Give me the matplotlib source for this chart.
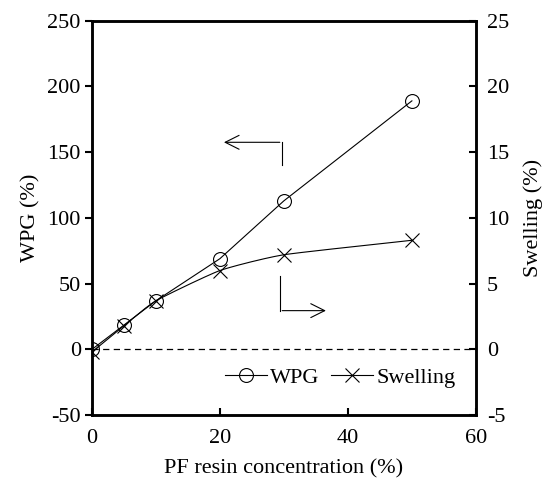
import numpy as np
import matplotlib
matplotlib.use("Agg")
import matplotlib.pyplot as plt
from matplotlib.lines import Line2D

# ── Data ──────────────────────────────────────────────────────────────────────
conc = [0, 5, 10, 20, 30, 50]
wpg = [0, 18.5, 37, 69, 113, 189]
swelling = [-0.2, 1.8, 3.7, 6.0, 7.2, 8.3]

x_ticks = [0, 20, 40, 60]
wpg_ticks = [-50, 0, 50, 100, 150, 200, 250]
sw_ticks = [-5, 0, 5, 10, 15, 20, 25]

plt.rcParams["font.family"] = ["Liberation Serif", "DejaVu Serif"]
plt.rcParams["font.size"] = 16
plt.rcParams["axes.unicode_minus"] = False


def smooth(xs, ys, n=30):
    # Catmull-Rom style smoothing, only for drawing the connecting line
    xs = np.asarray(xs, float)
    ys = np.asarray(ys, float)
    px = np.concatenate([[2 * xs[0] - xs[1]], xs, [2 * xs[-1] - xs[-2]]])
    py = np.concatenate([[2 * ys[0] - ys[1]], ys, [2 * ys[-1] - ys[-2]]])
    ox, oy = [], []
    for i in range(1, len(px) - 2):
        t = np.linspace(0, 1, n)
        for p, out in ((px, ox), (py, oy)):
            p0, p1, p2, p3 = p[i - 1], p[i], p[i + 1], p[i + 2]
            m1 = (p2 - p0) / 2 * 0.5
            m2 = (p3 - p1) / 2 * 0.5
            h = (2 * t**3 - 3 * t**2 + 1) * p1 + (t**3 - 2 * t**2 + t) * m1 \
                + (-2 * t**3 + 3 * t**2) * p2 + (t**3 - t**2) * m2
            out.extend(h)
    return np.array(ox), np.array(oy)


fig, ax = plt.subplots(figsize=(5.47, 4.8), dpi=100)
fig.subplots_adjust(left=0.168, right=0.87, top=0.957, bottom=0.135)
ax2 = ax.twinx()

ax.set_xlim(0, 60)
ax.set_ylim(-50, 250)
ax2.set_ylim(-5, 25)

ax.axhline(0, color="black", linestyle=(0, (5, 3.5)), linewidth=0.9, zorder=1)

# WPG
ax.plot(conc, wpg, color="black", linewidth=0.8, zorder=3)
ax.plot(conc, wpg, linestyle="none", marker="o", markersize=10,
        markerfacecolor="none", markeredgecolor="black", markeredgewidth=0.8,
        zorder=4)

# Swelling
sx, sy = smooth(conc, swelling)
ax2.plot(sx, sy, color="black", linewidth=0.8)
ax2.plot(conc, swelling, linestyle="none", marker="x", markersize=10,
         color="black", markeredgewidth=0.8)

# arrows showing which axis belongs to each series
ax.plot([29.7, 29.7], [140, 157.5], color="black", linewidth=0.8)
ax.annotate("", xy=(20.2, 157.5), xytext=(29.8, 157.5),
            arrowprops=dict(arrowstyle="->", color="black", lw=0.8,
                            mutation_scale=25))
ax.plot([29.4, 29.4], [56, 29.5], color="black", linewidth=0.8)
ax.annotate("", xy=(37.0, 29.5), xytext=(29.3, 29.5),
            arrowprops=dict(arrowstyle="->", color="black", lw=0.8,
                            mutation_scale=25))

ax.set_xticks(x_ticks)
ax.set_yticks(wpg_ticks)
ax2.set_yticks(sw_ticks)
ax.set_xlabel("PF resin concentration (%)", labelpad=8)
ax.set_ylabel("WPG (%)", labelpad=5)
ax2.set_ylabel("Swelling (%)", labelpad=10)

ax.tick_params(axis="x", direction="in", length=5, width=1.5, pad=10)
ax.tick_params(axis="y", direction="out", length=5, width=1.5, pad=3)
ax2.tick_params(axis="y", direction="in", length=5, width=1.5, pad=8)
for a in (ax, ax2):
    for s in a.spines.values():
        s.set_linewidth(1.8)

handles = [
    Line2D([], [], color="black", linewidth=0.8, marker="o", markersize=10,
           markerfacecolor="none", markeredgewidth=0.8),
    Line2D([], [], color="black", linewidth=0.8, marker="x", markersize=10,
           markeredgewidth=0.8),
]
ax.legend(handles, ["WPG", "Swelling"], loc="center right", ncol=2,
          frameon=False, handlelength=1.9, handletextpad=0.15,
          columnspacing=0.5, bbox_to_anchor=(0.97, 0.096), borderaxespad=0)

fig.savefig("out.png", dpi=100)
